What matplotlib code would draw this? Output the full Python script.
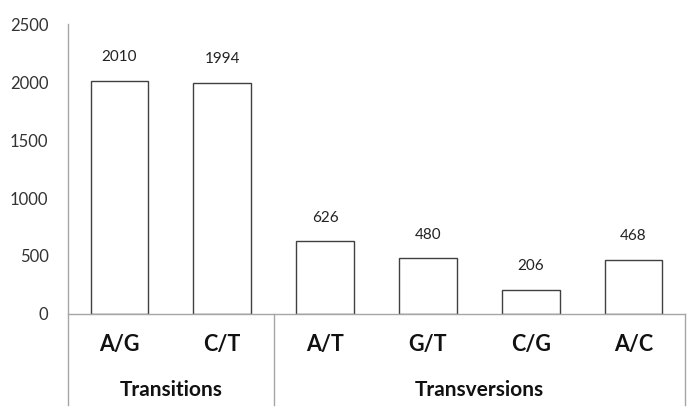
import numpy as np
import matplotlib.pyplot as plt
import matplotlib.transforms as mtransforms

plt.rcParams['font.family'] = ['Lato', 'DejaVu Sans']

categories = ['A/G', 'C/T', 'A/T', 'G/T', 'C/G', 'A/C']
counts = [2010, 1994, 626, 480, 206, 468]
groups = ['Transitions', 'Transversions']
group_sizes = [2, 4]

grey = '#a6a6a6'

fig = plt.figure(figsize=(6.9, 4.11), dpi=100)
ax = fig.add_axes([68/690, 1 - 314/411, 617/690, 290/411])

x = np.arange(len(categories))
bars = ax.bar(x, counts, width=0.56, color='white', edgecolor='#404040', linewidth=1.0)
for xi, v in zip(x, counts):
    ax.annotate(str(v), (xi, v), xytext=(0, 12), textcoords='offset points',
                ha='center', va='bottom', fontsize=11, color='#222222')

ax.set_xlim(-0.5, len(categories) - 0.5)
ax.set_ylim(0, 2500)
ax.set_yticks(np.arange(0, 2501, 500))
ax.tick_params(axis='y', length=0, pad=14, labelsize=12, labelcolor='#333333')
ax.set_xticks([])

for s in ['top', 'right', 'left']:
    ax.spines[s].set_visible(False)
ax.spines['bottom'].set_color(grey)
ax.spines['bottom'].set_linewidth(1.0)

trans = mtransforms.blended_transform_factory(ax.transData, ax.transAxes)
low = -(405 - 314) / 290

# left axis line, running down past the category area
ax.plot([-0.5, -0.5], [low, 1.0], color=grey, lw=1.0, transform=trans, clip_on=False)

# group separators
edges = np.cumsum([0] + group_sizes) - 0.5
for e in edges[1:]:
    ax.plot([e, e], [low, 0], color=grey, lw=1.0, transform=trans, clip_on=False)

for xi, c in zip(x, categories):
    ax.text(xi, -(345 - 314) / 290, c, transform=trans, ha='center', va='center',
            fontsize=15.5, fontweight='bold', color='#111111')

for g, a, b in zip(groups, edges[:-1], edges[1:]):
    ax.text((a + b) / 2, -(390 - 314) / 290, g, transform=trans, ha='center', va='center',
            fontsize=15, fontweight='bold', color='#111111')

fig.savefig('out.png', dpi=100)
